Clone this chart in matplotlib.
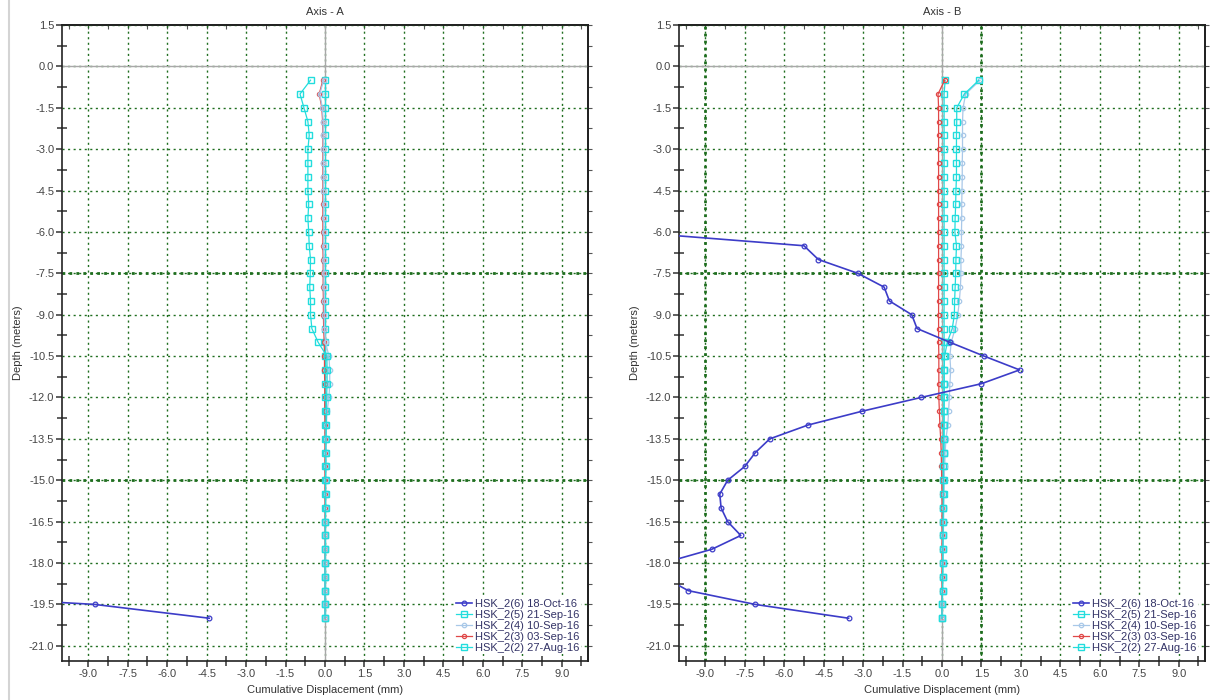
import matplotlib
matplotlib.use("Agg")
import matplotlib.pyplot as plt
from matplotlib.ticker import MultipleLocator, FuncFormatter
from matplotlib.lines import Line2D

plt.rcParams['font.family'] = ['Liberation Sans', 'DejaVu Sans']

# ---------------- data ----------------
depth = [-0.5, -1.0, -1.5, -2.0, -2.5, -3.0, -3.5, -4.0, -4.5, -5.0,
         -5.5, -6.0, -6.5, -7.0, -7.5, -8.0, -8.5, -9.0, -9.5, -10.0,
         -10.5, -11.0, -11.5, -12.0, -12.5, -13.0, -13.5, -14.0, -14.5, -15.0,
         -15.5, -16.0, -16.5, -17.0, -17.5, -18.0, -18.5, -19.0, -19.5, -20.0]

series_names = ["HSK_2(6) 18-Oct-16", "HSK_2(5) 21-Sep-16", "HSK_2(4) 10-Sep-16",
                "HSK_2(3) 03-Sep-16", "HSK_2(2) 27-Aug-16"]

# Axis - A
a_hsk6 = [-31.0, -30.6, -30.1, -29.7, -29.2, -28.8, -28.3, -27.9, -27.4, -27.0,
          -26.6, -26.1, -25.7, -25.2, -24.8, -24.3, -23.9, -23.4, -23.0, -22.6,
          -22.1, -21.7, -21.2, -20.8, -20.4, -20.0, -19.7, -19.5, -19.3, -19.1,
          -19.0, -18.9, -18.8, -18.7, -18.6, -18.5, -18.3, -18.0, -8.75, -4.4]
a_hsk5 = [-0.55, -0.95, -0.80, -0.65, -0.60, -0.65, -0.65, -0.65, -0.65, -0.62,
          -0.65, -0.62, -0.60, -0.55, -0.56, -0.58, -0.55, -0.55, -0.50, -0.26,
          0.07, 0.08, 0.08, 0.06, 0.05, 0.05, 0.04, 0.03, 0.03, 0.02,
          0.02, 0.02, 0.01, 0.01, 0.01, 0.0, 0.0, 0.0, 0.0, 0.0]
a_hsk4 = [-0.05, -0.20, -0.10, -0.07, -0.07, -0.06, -0.06, -0.06, -0.06, -0.05,
          -0.05, -0.05, -0.05, -0.04, -0.04, -0.04, -0.03, -0.03, -0.02, 0.02,
          0.15, 0.18, 0.18, 0.15, 0.08, 0.05, 0.04, 0.03, 0.03, 0.02,
          0.02, 0.02, 0.01, 0.01, 0.01, 0.01, 0.0, 0.0, 0.0, 0.0]
a_hsk3 = [-0.08, -0.22, -0.12, -0.09, -0.08, -0.08, -0.08, -0.08, -0.08, -0.08,
          -0.08, -0.08, -0.08, -0.07, -0.07, -0.07, -0.06, -0.06, -0.05, -0.03,
          -0.02, -0.02, -0.01, -0.01, -0.01, 0.0, 0.0, 0.0, 0.0, 0.0,
          0.0, 0.0, 0.0, 0.0, 0.0, 0.0, 0.0, 0.0, 0.0, 0.0]
a_hsk2 = [0.0, 0.0, 0.0, 0.0, 0.0, 0.0, 0.0, 0.0, 0.0, 0.0,
          0.0, 0.0, 0.0, 0.0, 0.0, 0.0, 0.0, 0.0, 0.0, 0.0,
          0.0, 0.0, 0.0, 0.0, 0.0, 0.0, 0.0, 0.0, 0.0, 0.0,
          0.0, 0.0, 0.0, 0.0, 0.0, 0.0, 0.0, 0.0, 0.0, 0.0]

# Axis - B
b_hsk6 = [-16.5, -16.0, -15.6, -15.2, -14.8, -14.3, -13.9, -13.5, -13.1, -12.7,
          -12.3, -11.9, -5.25, -4.70, -3.20, -2.20, -2.00, -1.15, -0.95, 0.30,
          1.60, 2.95, 1.50, -0.80, -3.05, -5.10, -6.55, -7.10, -7.50, -8.15,
          -8.45, -8.40, -8.15, -7.65, -8.75, -10.6, -10.6, -9.65, -7.10, -3.55]
b_hsk5 = [1.40, 0.85, 0.56, 0.56, 0.55, 0.55, 0.55, 0.55, 0.53, 0.52,
          0.50, 0.49, 0.55, 0.53, 0.52, 0.50, 0.48, 0.47, 0.39, 0.20,
          0.10, 0.08, 0.08, 0.08, 0.07, 0.07, 0.06, 0.06, 0.05, 0.05,
          0.05, 0.05, 0.04, 0.04, 0.03, 0.03, 0.02, 0.02, 0.0, 0.0]
b_hsk4 = [1.45, 0.90, 0.80, 0.78, 0.78, 0.78, 0.77, 0.77, 0.76, 0.75,
          0.75, 0.74, 0.74, 0.72, 0.72, 0.70, 0.66, 0.60, 0.50, 0.35,
          0.30, 0.33, 0.30, 0.28, 0.25, 0.22, 0.15, 0.12, 0.10, 0.08,
          0.08, 0.07, 0.06, 0.05, 0.04, 0.03, 0.02, 0.02, 0.01, 0.0]
b_hsk3 = [0.10, -0.15, -0.13, -0.13, -0.13, -0.13, -0.13, -0.13, -0.13, -0.13,
          -0.13, -0.13, -0.13, -0.13, -0.13, -0.13, -0.13, -0.13, -0.13, -0.13,
          -0.12, -0.12, -0.12, -0.12, -0.10, -0.08, -0.05, -0.03, -0.02, -0.01,
          0.0, 0.0, 0.0, 0.0, 0.0, 0.0, 0.0, 0.0, 0.0, 0.0]
b_hsk2 = [0.12, 0.08, 0.08, 0.08, 0.08, 0.08, 0.08, 0.08, 0.08, 0.08,
          0.08, 0.08, 0.08, 0.08, 0.08, 0.08, 0.08, 0.08, 0.08, 0.08,
          0.08, 0.08, 0.08, 0.08, 0.08, 0.08, 0.08, 0.08, 0.08, 0.08,
          0.06, 0.05, 0.05, 0.04, 0.04, 0.03, 0.02, 0.02, 0.0, 0.0]

panels = [
    ("Axis - A", [a_hsk6, a_hsk5, a_hsk4, a_hsk3, a_hsk2]),
    ("Axis - B", [b_hsk6, b_hsk5, b_hsk4, b_hsk3, b_hsk2]),
]

# ---------------- styles ----------------
styles = [
    dict(color="#3c3cc8", marker="o", ms=3.4, lw=1.2, mfc="none", mew=0.9),
    dict(color="#22dddd", marker="s", ms=3.8, lw=0.9, mfc="none", mew=1.0),
    dict(color="#a8c8e8", marker="o", ms=3.2, lw=0.9, mfc="none", mew=0.9),
    dict(color="#e04848", marker="o", ms=3.0, lw=0.9, mfc="none", mew=0.9),
    dict(color="#22dddd", marker="s", ms=3.8, lw=0.9, mfc="none", mew=1.0),
]
grid_color = "#1f6e1f"
thick_h = {"Axis - A": [-7.5, -15.0], "Axis - B": [-7.5, -15.0]}
thick_v = {"Axis - A": [], "Axis - B": [-9.0, 1.5]}

W, H = 1210, 700
fig = plt.figure(figsize=(W / 100, H / 100), dpi=100)
fig.patch.set_facecolor("white")

ax_l = [62, 679]
ax_w = 526
ax_top = 25
ax_bot = 661


def fmt(v, pos):
    if abs(v) < 1e-9:
        v = 0.0
    return f"{v:.1f}"


for (title, data), left in zip(panels, ax_l):
    ax = fig.add_axes([left / W, (H - ax_bot) / H, ax_w / W, (ax_bot - ax_top) / H])
    ax.set_xlim(-10, 10)
    ax.set_ylim(-21.55, 1.5)

    ax.xaxis.set_major_locator(MultipleLocator(1.5))
    ax.xaxis.set_minor_locator(MultipleLocator(0.75))
    ax.yaxis.set_major_locator(MultipleLocator(1.5))
    ax.yaxis.set_minor_locator(MultipleLocator(0.75))
    ax.xaxis.set_major_formatter(FuncFormatter(fmt))
    ax.yaxis.set_major_formatter(FuncFormatter(fmt))
    ax.tick_params(which="major", direction="out", length=4, width=1.1,
                   labelsize=8, pad=1.5, colors="#333333", labelcolor="#444444")
    ax.tick_params(which="minor", direction="inout", length=7, width=1.1, colors="#333333")

    # secondary ticks on top/right
    sx = ax.secondary_xaxis("top")
    sx.xaxis.set_major_locator(MultipleLocator(0.75))
    sx.tick_params(direction="in", length=3, width=0.8, labeltop=False, colors="#555555")
    sy = ax.secondary_yaxis("right")
    sy.yaxis.set_major_locator(MultipleLocator(0.75))
    sy.tick_params(direction="out", length=3, width=0.8, labelright=False, colors="#555555")
    for s in [sx.spines["top"], sy.spines["right"]]:
        s.set_linewidth(1.2)

    for s in ax.spines.values():
        s.set_linewidth(1.2)
        s.set_color("#222222")

    ax.grid(True, which="major", color=grid_color, linestyle=(0, (1.5, 2.5)), linewidth=1.0)
    ax.set_axisbelow(True)
    for yv in thick_h[title]:
        ax.axhline(yv, color=grid_color, linestyle=(0, (1.0, 1.5)), linewidth=2.0, zorder=0.6)
    for xv in thick_v[title]:
        ax.axvline(xv, color=grid_color, linestyle=(0, (1.0, 1.5)), linewidth=2.0, zorder=0.6)
    ax.axhline(0, color="#a8a8a8", lw=1.0, zorder=0.7)
    ax.axvline(0, color="#a8a8a8", lw=1.0, zorder=0.7)

    handles = []
    for vals, name, st in reversed(list(zip(data, series_names, styles))):
        h, = ax.plot(vals, depth, label=name, color=st["color"], marker=st["marker"],
                     markersize=st["ms"], linewidth=st["lw"], markerfacecolor=st["mfc"],
                     markeredgewidth=st["mew"], zorder=3)
        handles.append(h)
    handles = handles[::-1]

    leg = ax.legend(handles=handles, loc="lower right", fontsize=8, frameon=True,
                    facecolor="white", edgecolor="none", framealpha=1.0,
                    handlelength=1.4, handletextpad=0.3, labelspacing=0.08,
                    borderpad=0.15, borderaxespad=0.6)
    for t in leg.get_texts():
        t.set_color("#333366")

    ax.text(0.5, 1 + 13 / 636, title, transform=ax.transAxes, ha="center", va="center",
            fontsize=8, color="#333333")
    ax.set_xlabel("Cumulative Displacement (mm)", fontsize=8, color="#333333")
    ax.xaxis.set_label_coords(0.5, -29 / 636)
    ax.xaxis.label.set_va("center")
    ax.set_ylabel("Depth (meters)", fontsize=8, color="#333333")
    ax.yaxis.set_label_coords(-44 / 526, 0.5)
    ax.yaxis.label.set_va("center")

# faint frame line at left edge of image
fig.add_artist(Line2D([9 / W, 9 / W], [0, 1], color="#d4d4d4", lw=1.5, transform=fig.transFigure))

fig.savefig("out.png", dpi=100, facecolor="white")
